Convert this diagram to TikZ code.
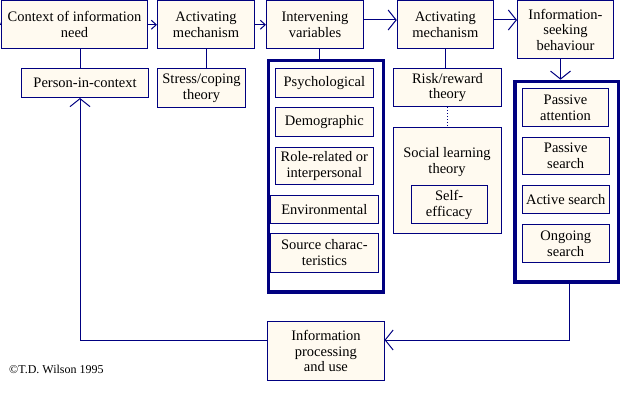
\documentclass[tikz,border=0pt]{standalone}
\usepackage{fontspec}
\setmainfont{Liberation Serif}
\usetikzlibrary{arrows.meta,calc}
\definecolor{navy}{RGB}{0,0,128}
\definecolor{cream}{RGB}{255,250,240}
\begin{document}
\begin{tikzpicture}[x=1pt,y=-1pt,
 box/.style={draw=navy, fill=cream, line width=1pt, inner sep=0pt, align=center, anchor=north west, font=\fontsize{14.5}{15.7}\selectfont},
 big/.style={draw=navy, line width=3.3pt, fill=white, inner sep=0pt, anchor=north west},
 conn/.style={draw=navy, line width=1pt},
 arr/.style={conn, -{Straight Barb[length=8pt,width=20pt]}},
 sarr/.style={conn, -{Straight Barb[length=5pt,width=9pt]}},
 lbl/.style={inner sep=0pt, align=center, font=\fontsize{14.5}{15.7}\selectfont},
]
\useasboundingbox (0,0) rectangle (620,417);
% top row
\node[box, minimum width=146, minimum height=47.5] (ctx) at (1,0.5) {Context of information\\need};
\node[box, minimum width=97, minimum height=47.5] (act1) at (157,0.5) {Activating\\mechanism};
\node[box, minimum width=97, minimum height=47.5] (iv) at (266,0.5) {Intervening\\variables};
\node[box, minimum width=96.3, minimum height=47.5] (act2) at (396.7,0.5) {Activating\\mechanism};
\node[box, minimum width=96, minimum height=57.5] (isb) at (517,0.5) {Information-\\seeking\\behaviour};
% second row
\node[box, minimum width=126.4, minimum height=29] (pic) at (21.3,68) {Person-in-context};
\node[box, minimum width=88, minimum height=39] (stress) at (157,68) {Stress/coping\\theory};
\node[box, minimum width=107.4, minimum height=37.7] (risk) at (393.3,68.3) {Risk/reward\\theory};
\node[box, minimum width=107.4, minimum height=106] (social) at (393.3,127.3) {};
\node[lbl] (socialtxt) at (447,162) {Social learning\\theory};
\node[box, minimum width=76, minimum height=38] (self) at (410.7,185.3) {Self-\\efficacy};
% intervening variables group
\node[big, minimum width=115, minimum height=231.3] (ivbig) at (266.65,59) {};
\node[box, minimum width=97.7, minimum height=28.4] (psy) at (275,68.3) {Psychological};
\node[box, minimum width=97.7, minimum height=28.7] (demo) at (275,107.3) {Demographic};
\node[box, minimum width=97.7, minimum height=37.6] (role) at (275,146.7) {Role-related or\\interpersonal};
\node[box, minimum width=107.7, minimum height=28.3] (env) at (270,195) {Environmental};
\node[box, minimum width=107.7, minimum height=38.7] (src) at (270,233) {Source charac-\\teristics};
% information seeking group
\node[big, minimum width=103.9, minimum height=200.6] (isbbig) at (513.4,79.7) {};
\node[box, minimum width=86.5, minimum height=38] (pa) at (521.7,88) {Passive\\attention};
\node[box, minimum width=87, minimum height=37.3] (ps) at (521.7,136.7) {Passive\\search};
\node[box, minimum width=87, minimum height=28] (as) at (521.7,185) {Active search};
\node[box, minimum width=87, minimum height=38] (os) at (521.7,224) {Ongoing\\search};
% bottom
\node[box, minimum width=116.2, minimum height=59] (ipu) at (267.3,321) {Information\\processing\\and use};
\node[anchor=west, inner sep=0pt, font=\fontsize{12}{13}\selectfont] (copy) at (9,369) {©T.D. Wilson 1995};
% coordinates
\coordinate (lin) at (0,24.25);
\coordinate (y20) at (0,20);
\coordinate (ivx) at (319,0);
\coordinate (isx) at (560.5,0);
\coordinate (br) at (569,340);
\coordinate (bl) at (80,340);
% connectors
\draw[sarr] (lin) -- (ctx.west);
\draw[sarr] (ctx.east) -- (act1.west);
\draw[sarr] (act1.east) -- (iv.west);
\draw[arr] (iv.east |- y20) -- (act2.west |- y20);
\draw[arr] (act2.east |- y20) -- (isb.west |- y20);
\draw[arr] (isb.south -| isx) -- (isbbig.north -| isx);
\draw[conn] (ctx.south -| bl) -- (pic.north -| bl);
\draw[conn] (act1.south) -- (act1.south |- stress.north);
\draw[conn] (iv.south -| ivx) -- (ivbig.north -| ivx);
\draw[conn] (act2.south) -- (act2.south |- risk.north);
\draw[conn, dotted] (risk.south) -- (risk.south |- social.north);
\draw[arr] (isbbig.south -| br) -- (br) -- (ipu.east |- br);
\draw[arr] (ipu.west |- bl) -- (bl) -- (bl |- pic.south);
\end{tikzpicture}
\end{document}
